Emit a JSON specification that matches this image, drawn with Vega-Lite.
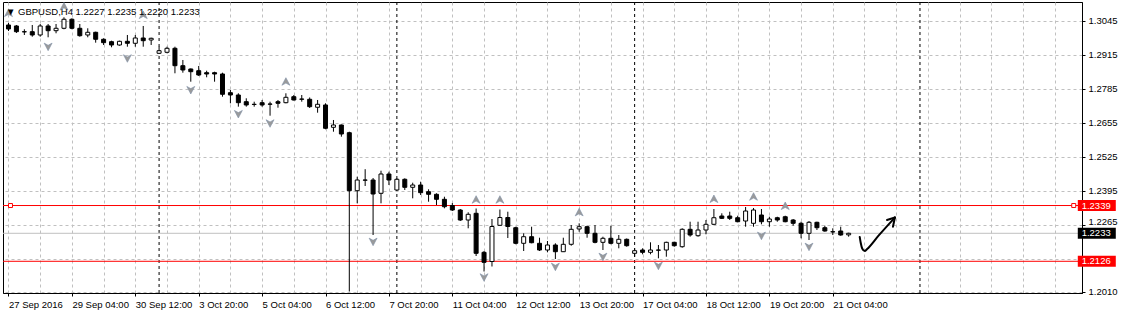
{
  "$schema": "https://vega.github.io/schema/vega-lite/v6.json",
  "autosize": {"type": "none"},
  "padding": {"left": 3, "top": 2, "right": 39, "bottom": 22},
  "width": 1079,
  "height": 291,
  "background": "#ffffff",
  "title": {"text": "▼ GBPUSD,H4  1.2227 1.2235 1.2220 1.2233", "anchor": "start", "frame": "group", "offset": -14.5, "dx": 3, "font": "Liberation Sans", "fontSize": 9.5, "fontWeight": "normal", "color": "#000000"},
  "config": {
    "view": {"stroke": "#000000", "strokeWidth": 1},
    "axis": {"labelFont": "Liberation Sans", "labelFontSize": 9.5, "labelColor": "#000000", "domainColor": "#000000", "tickColor": "#000000", "gridColor": "#c0c0c0", "gridDash": [3, 3], "gridOpacity": 1, "labelOverlap": false, "labelSeparation": 0}
  },
  "datasets": {
    "candles": [
      {"i":0,"o":1.30286,"h":1.30362,"l":1.30057,"c":1.30133},
      {"i":1,"o":1.30248,"h":1.30286,"l":1.29980,"c":1.30030},
      {"i":2,"o":1.30030,"h":1.30122,"l":1.29904,"c":1.30022},
      {"i":3,"o":1.30030,"h":1.30286,"l":1.29839,"c":1.29904},
      {"i":4,"o":1.29904,"h":1.30324,"l":1.29839,"c":1.30248},
      {"i":5,"o":1.30248,"h":1.30324,"l":1.29816,"c":1.30068},
      {"i":6,"o":1.30068,"h":1.30324,"l":1.29969,"c":1.30160},
      {"i":7,"o":1.30160,"h":1.30580,"l":1.30122,"c":1.30504},
      {"i":8,"o":1.30504,"h":1.30542,"l":1.30122,"c":1.30160},
      {"i":9,"o":1.30160,"h":1.30324,"l":1.29839,"c":1.29877},
      {"i":10,"o":1.29904,"h":1.30160,"l":1.29816,"c":1.30007},
      {"i":11,"o":1.30007,"h":1.30030,"l":1.29610,"c":1.29740},
      {"i":12,"o":1.29740,"h":1.29778,"l":1.29522,"c":1.29610},
      {"i":13,"o":1.29648,"h":1.29686,"l":1.29434,"c":1.29522},
      {"i":14,"o":1.29522,"h":1.29686,"l":1.29495,"c":1.29663},
      {"i":15,"o":1.29663,"h":1.29904,"l":1.29457,"c":1.29587},
      {"i":16,"o":1.29587,"h":1.29904,"l":1.29457,"c":1.29789},
      {"i":17,"o":1.29789,"h":1.30248,"l":1.29457,"c":1.29686},
      {"i":18,"o":1.29713,"h":1.29801,"l":1.29522,"c":1.29778},
      {"i":19,"o":1.29205,"h":1.29457,"l":1.29178,"c":1.29304},
      {"i":20,"o":1.29243,"h":1.29457,"l":1.29205,"c":1.29396},
      {"i":21,"o":1.29396,"h":1.29457,"l":1.28441,"c":1.28731},
      {"i":22,"o":1.28731,"h":1.28949,"l":1.28464,"c":1.28567},
      {"i":23,"o":1.28605,"h":1.28624,"l":1.28120,"c":1.28502},
      {"i":24,"o":1.28540,"h":1.28720,"l":1.28338,"c":1.28376},
      {"i":25,"o":1.28464,"h":1.28540,"l":1.28288,"c":1.28414},
      {"i":26,"o":1.28464,"h":1.28502,"l":1.28120,"c":1.28414},
      {"i":27,"o":1.28414,"h":1.28464,"l":1.27547,"c":1.27639},
      {"i":28,"o":1.27700,"h":1.27803,"l":1.27295,"c":1.27612},
      {"i":29,"o":1.27612,"h":1.27677,"l":1.27166,"c":1.27318},
      {"i":30,"o":1.27356,"h":1.27486,"l":1.27166,"c":1.27231},
      {"i":31,"o":1.27257,"h":1.27356,"l":1.27166,"c":1.27250},
      {"i":32,"o":1.27318,"h":1.27421,"l":1.27166,"c":1.27231},
      {"i":33,"o":1.27268,"h":1.27356,"l":1.26821,"c":1.27260},
      {"i":34,"o":1.27356,"h":1.27421,"l":1.27127,"c":1.27295},
      {"i":35,"o":1.27318,"h":1.27677,"l":1.27295,"c":1.27524},
      {"i":36,"o":1.27547,"h":1.27612,"l":1.27402,"c":1.27421},
      {"i":37,"o":1.27459,"h":1.27612,"l":1.27356,"c":1.27450},
      {"i":38,"o":1.27448,"h":1.27517,"l":1.27116,"c":1.27166},
      {"i":39,"o":1.27143,"h":1.27421,"l":1.26936,"c":1.27257},
      {"i":40,"o":1.27231,"h":1.27295,"l":1.26302,"c":1.26340},
      {"i":41,"o":1.26378,"h":1.26657,"l":1.26210,"c":1.26466},
      {"i":42,"o":1.26466,"h":1.26485,"l":1.26019,"c":1.26122},
      {"i":43,"o":1.26172,"h":1.26210,"l":1.20106,"c":1.23956},
      {"i":44,"o":1.23956,"h":1.24491,"l":1.23475,"c":1.24365},
      {"i":45,"o":1.24365,"h":1.24778,"l":1.24136,"c":1.24358},
      {"i":46,"o":1.24365,"h":1.24441,"l":1.22264,"c":1.23830},
      {"i":47,"o":1.23857,"h":1.24720,"l":1.23475,"c":1.24594},
      {"i":48,"o":1.24594,"h":1.24682,"l":1.24174,"c":1.24365},
      {"i":49,"o":1.23983,"h":1.24430,"l":1.23956,"c":1.24392},
      {"i":50,"o":1.24392,"h":1.24430,"l":1.23983,"c":1.24086},
      {"i":51,"o":1.24086,"h":1.24262,"l":1.23666,"c":1.24174},
      {"i":52,"o":1.24174,"h":1.24300,"l":1.23792,"c":1.23880},
      {"i":53,"o":1.23918,"h":1.24010,"l":1.23536,"c":1.23819},
      {"i":54,"o":1.23819,"h":1.23857,"l":1.23410,"c":1.23628},
      {"i":55,"o":1.23628,"h":1.23727,"l":1.23284,"c":1.23345},
      {"i":56,"o":1.23391,"h":1.23486,"l":1.23181,"c":1.23219},
      {"i":57,"o":1.23219,"h":1.23257,"l":1.22799,"c":1.22837},
      {"i":58,"o":1.22837,"h":1.23131,"l":1.22520,"c":1.23055},
      {"i":59,"o":1.23093,"h":1.23276,"l":1.21462,"c":1.21565},
      {"i":60,"o":1.21603,"h":1.21653,"l":1.20870,"c":1.21221},
      {"i":61,"o":1.21252,"h":1.22875,"l":1.21061,"c":1.22589},
      {"i":62,"o":1.22634,"h":1.23238,"l":1.22620,"c":1.22932},
      {"i":63,"o":1.22932,"h":1.23154,"l":1.22149,"c":1.22589},
      {"i":64,"o":1.22543,"h":1.22581,"l":1.21909,"c":1.21947},
      {"i":65,"o":1.21947,"h":1.22329,"l":1.21653,"c":1.22199},
      {"i":66,"o":1.22199,"h":1.22581,"l":1.21947,"c":1.21970},
      {"i":67,"o":1.21947,"h":1.22161,"l":1.21653,"c":1.21691},
      {"i":68,"o":1.21691,"h":1.22035,"l":1.21603,"c":1.21882},
      {"i":69,"o":1.21882,"h":1.21947,"l":1.21347,"c":1.21626},
      {"i":70,"o":1.21626,"h":1.22161,"l":1.21615,"c":1.21909},
      {"i":71,"o":1.21909,"h":1.22646,"l":1.21855,"c":1.22482},
      {"i":72,"o":1.22494,"h":1.22711,"l":1.22390,"c":1.22581},
      {"i":73,"o":1.22581,"h":1.22620,"l":1.22161,"c":1.22329},
      {"i":74,"o":1.22329,"h":1.22646,"l":1.21947,"c":1.21985},
      {"i":75,"o":1.21985,"h":1.22199,"l":1.21691,"c":1.22138},
      {"i":76,"o":1.22138,"h":1.22620,"l":1.21909,"c":1.21947},
      {"i":77,"o":1.21947,"h":1.22264,"l":1.21756,"c":1.22100},
      {"i":78,"o":1.22100,"h":1.22131,"l":1.21817,"c":1.21855},
      {"i":79,"o":1.21565,"h":1.21756,"l":1.21435,"c":1.21664},
      {"i":80,"o":1.21691,"h":1.21756,"l":1.21527,"c":1.21603},
      {"i":81,"o":1.21603,"h":1.21985,"l":1.21527,"c":1.21691},
      {"i":82,"o":1.21691,"h":1.21882,"l":1.21374,"c":1.21684},
      {"i":83,"o":1.21691,"h":1.22008,"l":1.21435,"c":1.21985},
      {"i":84,"o":1.21985,"h":1.22008,"l":1.21817,"c":1.21855},
      {"i":85,"o":1.21817,"h":1.22520,"l":1.21779,"c":1.22482},
      {"i":86,"o":1.22482,"h":1.22772,"l":1.22199,"c":1.22264},
      {"i":87,"o":1.22237,"h":1.22772,"l":1.22199,"c":1.22455},
      {"i":88,"o":1.22455,"h":1.22837,"l":1.22291,"c":1.22673},
      {"i":89,"o":1.22673,"h":1.23257,"l":1.22646,"c":1.22924},
      {"i":90,"o":1.22990,"h":1.23093,"l":1.22875,"c":1.22901},
      {"i":91,"o":1.22990,"h":1.23154,"l":1.22837,"c":1.22901},
      {"i":92,"o":1.22924,"h":1.23001,"l":1.22749,"c":1.22772},
      {"i":93,"o":1.22799,"h":1.23334,"l":1.22581,"c":1.23181},
      {"i":94,"o":1.22711,"h":1.23296,"l":1.22581,"c":1.23219},
      {"i":95,"o":1.23028,"h":1.23257,"l":1.22673,"c":1.22772},
      {"i":96,"o":1.22772,"h":1.22962,"l":1.22581,"c":1.22875},
      {"i":97,"o":1.22924,"h":1.22962,"l":1.22772,"c":1.22837},
      {"i":98,"o":1.22962,"h":1.23001,"l":1.22749,"c":1.22772},
      {"i":99,"o":1.22837,"h":1.22875,"l":1.22620,"c":1.22711},
      {"i":100,"o":1.22711,"h":1.22772,"l":1.22138,"c":1.22329},
      {"i":101,"o":1.22329,"h":1.22799,"l":1.22073,"c":1.22749},
      {"i":102,"o":1.22749,"h":1.22772,"l":1.22455,"c":1.22543},
      {"i":103,"o":1.22543,"h":1.22620,"l":1.22390,"c":1.22417},
      {"i":104,"o":1.22390,"h":1.22520,"l":1.22264,"c":1.22383},
      {"i":105,"o":1.22417,"h":1.22581,"l":1.22237,"c":1.22264},
      {"i":106,"o":1.2227,"h":1.2235,"l":1.2220,"c":1.2233}
    ],
    "fractals": [
      {"i":0,"p":1.30744,"dir":"up"},
      {"i":7,"p":1.30993,"dir":"up"},
      {"i":17,"p":1.30668,"dir":"up"},
      {"i":35,"p":1.28120,"dir":"up"},
      {"i":59,"p":1.23613,"dir":"up"},
      {"i":62,"p":1.23613,"dir":"up"},
      {"i":72,"p":1.23131,"dir":"up"},
      {"i":89,"p":1.23639,"dir":"up"},
      {"i":94,"p":1.23727,"dir":"up"},
      {"i":98,"p":1.23372,"dir":"up"},
      {"i":5,"p":1.29457,"dir":"down"},
      {"i":15,"p":1.29014,"dir":"down"},
      {"i":23,"p":1.27803,"dir":"down"},
      {"i":29,"p":1.26886,"dir":"down"},
      {"i":33,"p":1.26531,"dir":"down"},
      {"i":43,"p":1.19896,"dir":"down"},
      {"i":46,"p":1.22008,"dir":"down"},
      {"i":60,"p":1.20648,"dir":"down"},
      {"i":69,"p":1.21053,"dir":"down"},
      {"i":75,"p":1.21435,"dir":"down"},
      {"i":82,"p":1.21091,"dir":"down"},
      {"i":95,"p":1.22237,"dir":"down"},
      {"i":101,"p":1.21817,"dir":"down"}
    ],
    "levels": [
      {"p":1.2339,"label":"1.2339","kind":"line"},
      {"p":1.2126,"label":"1.2126","kind":"line"},
      {"p":1.2233,"label":"1.2233","kind":"bid"}
    ],
    "separators": [{"i":19},{"i":49},{"i":79},{"i":115}],
    "anchors": [{"i":0.25,"p":1.2339},{"i":134.4,"p":1.2339}],
    "arrow": [
      {"seg":"a","k":1,"i":107.4,"p":1.22188},
      {"seg":"a","k":2,"i":107.53,"p":1.21959},
      {"seg":"a","k":3,"i":107.71,"p":1.21749},
      {"seg":"a","k":4,"i":108.03,"p":1.21653},
      {"seg":"a","k":5,"i":108.34,"p":1.21730},
      {"seg":"a","k":6,"i":109.8,"p":1.2225},
      {"seg":"a","k":7,"i":111.84,"p":1.22933},
      {"seg":"b","k":1,"i":111.84,"p":1.22933},
      {"seg":"b","k":2,"i":110.84,"p":1.22837},
      {"seg":"c","k":1,"i":111.84,"p":1.22933},
      {"seg":"c","k":2,"i":111.59,"p":1.22581}
    ]
  },
  "layer": [
    {
      "data": {"name": "separators"},
      "mark": {"type": "rule", "color": "#000000", "strokeWidth": 1, "strokeDash": [3, 3]},
      "encoding": {
        "x": {"field": "i", "type": "quantitative", "scale": {"domain": [-0.0625, 134.8125], "nice": false, "zero": false},
          "axis": {"title": null, "values": [0,4,8,12,16,20,24,28,32,36,40,44,48,52,56,60,64,68,72,76,80,84,88,92,96,100,104,108,112,116,120,124,128,132],
            "tickCount": 200, "grid": true, "tickSize": 3, "labelAlign": "left", "labelPadding": 3, "labelOverlap": false, "labelBound": false, "labelFlush": false,
            "tickOpacity": {"condition": {"test": "datum.value % 8 == 0 && datum.value <= 104", "value": 1}, "value": 0},
            "labelExpr": "(datum.value % 8 == 0 && datum.value <= 104) ? ['27 Sep 2016','29 Sep 04:00','30 Sep 12:00','3 Oct 20:00','5 Oct 04:00','6 Oct 12:00','7 Oct 20:00','11 Oct 04:00','12 Oct 12:00','13 Oct 20:00','17 Oct 04:00','18 Oct 12:00','19 Oct 20:00','21 Oct 04:00'][datum.value / 8] : ''"}}
      }
    },
    {
      "data": {"name": "levels"},
      "mark": {"type": "rule", "strokeWidth": 1},
      "encoding": {
        "y": {"field": "p", "type": "quantitative", "scale": {"domain": [1.20049, 1.31164], "nice": false, "zero": false},
          "axis": {"title": null, "orient": "right", "values": [1.2010, 1.2135, 1.2265, 1.2395, 1.2525, 1.2655, 1.2785, 1.2915, 1.3045],
            "tickCount": 100, "grid": true, "tickSize": 3, "labelAlign": "left", "labelPadding": 3, "labelOverlap": false, "labelBound": false, "labelFlush": false,
            "labelBaseline": {"condition": {"test": "abs(datum.value - 1.2265) < 0.00001", "value": "alphabetic"}, "value": "middle"},
            "labelExpr": "abs(datum.value - 1.2135) < 0.00001 ? '' : format(datum.value, '.4f')"}},
        "stroke": {"field": "kind", "type": "nominal", "scale": {"domain": ["line", "bid"], "range": ["#ff0000", "#c0c0c0"]}, "legend": null}
      }
    },
    {
      "data": {"name": "candles"},
      "mark": {"type": "rule", "color": "#000000", "strokeWidth": 1, "clip": true},
      "encoding": {
        "x": {"field": "i", "type": "quantitative"},
        "y": {"field": "l", "type": "quantitative", "axis": {"orient": "right", "title": null}},
        "y2": {"field": "h"}
      }
    },
    {
      "data": {"name": "candles"},
      "mark": {"type": "bar", "width": 4, "stroke": "#000000", "strokeWidth": 1, "clip": true},
      "encoding": {
        "x": {"field": "i", "type": "quantitative"},
        "y": {"field": "o", "type": "quantitative", "axis": {"orient": "right", "title": null}},
        "y2": {"field": "c"},
        "fill": {"condition": {"test": "datum.c >= datum.o", "value": "#ffffff"}, "value": "#000000"}
      }
    },
    {
      "data": {"name": "fractals"},
      "mark": {"type": "point", "filled": true, "size": 64, "fill": "#9a9a9a", "stroke": "#8090a8", "strokeWidth": 0.6, "opacity": 1, "clip": true},
      "encoding": {
        "x": {"field": "i", "type": "quantitative"},
        "y": {"field": "p", "type": "quantitative", "axis": {"orient": "right", "title": null}},
        "shape": {"field": "dir", "type": "nominal", "scale": {"domain": ["up", "down"], "range": ["M0,-1L1,0.9L0,0.35L-1,0.9Z", "M0,1L1,-0.9L0,-0.35L-1,-0.9Z"]}, "legend": null}
      }
    },
    {
      "data": {"name": "arrow"},
      "mark": {"type": "line", "color": "#000000", "strokeWidth": 2, "interpolate": "monotone", "strokeCap": "round", "strokeJoin": "round"},
      "encoding": {
        "x": {"field": "i", "type": "quantitative"},
        "y": {"field": "p", "type": "quantitative", "axis": {"orient": "right", "title": null}},
        "detail": {"field": "seg", "type": "nominal"},
        "order": {"field": "k", "type": "quantitative"}
      }
    },
    {
      "data": {"name": "anchors"},
      "mark": {"type": "point", "shape": "square", "size": 16, "filled": false, "stroke": "#ff0000", "fill": "#ffffff", "fillOpacity": 1, "strokeWidth": 1, "opacity": 1},
      "encoding": {
        "x": {"field": "i", "type": "quantitative"},
        "y": {"field": "p", "type": "quantitative", "axis": {"orient": "right", "title": null}}
      }
    },
    {
      "data": {"name": "levels"},
      "mark": {"type": "point", "shape": "M-1,-0.29H1V0.29H-1Z", "size": 1444, "filled": true, "opacity": 1, "strokeWidth": 0},
      "encoding": {
        "x": {"datum": 137.31},
        "y": {"field": "p", "type": "quantitative", "axis": {"orient": "right", "title": null}},
        "fill": {"field": "kind", "type": "nominal", "scale": {"domain": ["line", "bid"], "range": ["#ff0000", "#000000"]}, "legend": null}
      }
    },
    {
      "data": {"name": "levels"},
      "mark": {"type": "text", "align": "left", "baseline": "middle", "font": "Liberation Sans", "fontSize": 9.5, "color": "#ffffff"},
      "encoding": {
        "x": {"datum": 135.4},
        "y": {"field": "p", "type": "quantitative", "axis": {"orient": "right", "title": null}},
        "text": {"field": "label"}
      }
    }
  ]
}
